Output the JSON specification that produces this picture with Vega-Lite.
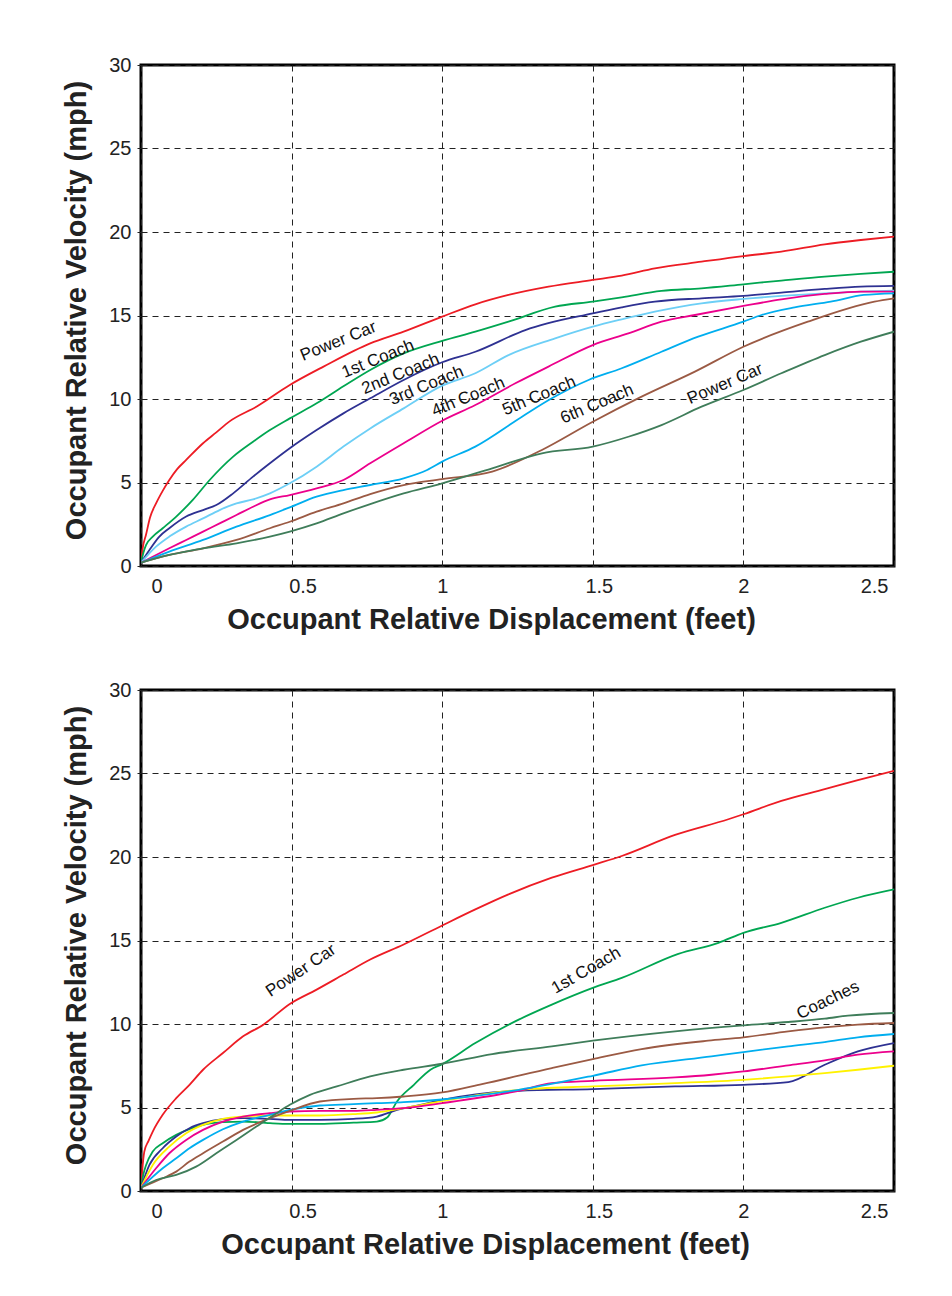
{
  "$schema": "https://vega.github.io/schema/vega-lite/v6.json",
  "background": "white",
  "padding": {"left": 60, "top": 53, "right": 5, "bottom": 5},
  "spacing": 42,
  "config": {
    "view": {"stroke": "black", "strokeWidth": 3},
    "axis": {
      "grid": true, "gridColor": "#222", "gridDash": [6, 5], "gridWidth": 1,
      "domain": false, "ticks": false,
      "labelFont": "Liberation Sans", "labelFontSize": 20, "labelColor": "#222",
      "titleFont": "Liberation Sans", "titleFontSize": 29, "titleFontWeight": "bold", "titleColor": "#222"
    },
    "text": {"font": "Liberation Sans", "fontSize": 17, "color": "#111"}
  },
  "datasets": {
    "top": [
      {"series":"Power Car (front)","x":0,"y":0.2},{"series":"Power Car (front)","x":0.005,"y":1.0},{"series":"Power Car (front)","x":0.017,"y":1.9},{"series":"Power Car (front)","x":0.03,"y":2.9},{"series":"Power Car (front)","x":0.05,"y":3.75},{"series":"Power Car (front)","x":0.072,"y":4.5},{"series":"Power Car (front)","x":0.094,"y":5.15},{"series":"Power Car (front)","x":0.12,"y":5.8},{"series":"Power Car (front)","x":0.15,"y":6.35},{"series":"Power Car (front)","x":0.206,"y":7.35},{"series":"Power Car (front)","x":0.25,"y":8.0},{"series":"Power Car (front)","x":0.294,"y":8.66},{"series":"Power Car (front)","x":0.383,"y":9.54},{"series":"Power Car (front)","x":0.494,"y":10.84},{"series":"Power Car (front)","x":0.606,"y":11.94},{"series":"Power Car (front)","x":0.761,"y":13.33},{"series":"Power Car (front)","x":0.872,"y":14.03},{"series":"Power Car (front)","x":1.0,"y":14.93},{"series":"Power Car (front)","x":1.11,"y":15.67},{"series":"Power Car (front)","x":1.22,"y":16.23},{"series":"Power Car (front)","x":1.353,"y":16.73},{"series":"Power Car (front)","x":1.5,"y":17.13},{"series":"Power Car (front)","x":1.596,"y":17.39},{"series":"Power Car (front)","x":1.706,"y":17.82},{"series":"Power Car (front)","x":1.861,"y":18.22},{"series":"Power Car (front)","x":2.0,"y":18.56},{"series":"Power Car (front)","x":2.126,"y":18.82},{"series":"Power Car (front)","x":2.27,"y":19.26},{"series":"Power Car (front)","x":2.39,"y":19.52},{"series":"Power Car (front)","x":2.5,"y":19.72},
      {"series":"1st Coach","x":0,"y":0.2},{"series":"1st Coach","x":0.008,"y":0.8},{"series":"1st Coach","x":0.017,"y":1.26},{"series":"1st Coach","x":0.039,"y":1.76},{"series":"1st Coach","x":0.072,"y":2.26},{"series":"1st Coach","x":0.117,"y":2.96},{"series":"1st Coach","x":0.172,"y":3.96},{"series":"1st Coach","x":0.228,"y":5.15},{"series":"1st Coach","x":0.306,"y":6.55},{"series":"1st Coach","x":0.372,"y":7.44},{"series":"1st Coach","x":0.428,"y":8.14},{"series":"1st Coach","x":0.494,"y":8.84},{"series":"1st Coach","x":0.583,"y":9.74},{"series":"1st Coach","x":0.672,"y":10.76},{"series":"1st Coach","x":0.761,"y":11.74},{"series":"1st Coach","x":0.872,"y":12.73},{"series":"1st Coach","x":1.0,"y":13.48},{"series":"1st Coach","x":1.11,"y":14.03},{"series":"1st Coach","x":1.22,"y":14.63},{"series":"1st Coach","x":1.375,"y":15.53},{"series":"1st Coach","x":1.5,"y":15.83},{"series":"1st Coach","x":1.596,"y":16.09},{"series":"1st Coach","x":1.728,"y":16.47},{"series":"1st Coach","x":1.861,"y":16.63},{"series":"1st Coach","x":2.0,"y":16.87},{"series":"1st Coach","x":2.126,"y":17.09},{"series":"1st Coach","x":2.27,"y":17.33},{"series":"1st Coach","x":2.39,"y":17.49},{"series":"1st Coach","x":2.5,"y":17.62},
      {"series":"2nd Coach","x":0,"y":0.2},{"series":"2nd Coach","x":0.028,"y":0.96},{"series":"2nd Coach","x":0.061,"y":1.76},{"series":"2nd Coach","x":0.094,"y":2.26},{"series":"2nd Coach","x":0.15,"y":2.96},{"series":"2nd Coach","x":0.206,"y":3.35},{"series":"2nd Coach","x":0.25,"y":3.65},{"series":"2nd Coach","x":0.306,"y":4.35},{"series":"2nd Coach","x":0.372,"y":5.35},{"series":"2nd Coach","x":0.428,"y":6.15},{"series":"2nd Coach","x":0.494,"y":7.05},{"series":"2nd Coach","x":0.583,"y":8.14},{"series":"2nd Coach","x":0.672,"y":9.14},{"series":"2nd Coach","x":0.761,"y":10.04},{"series":"2nd Coach","x":0.872,"y":11.14},{"series":"2nd Coach","x":1.0,"y":12.2},{"series":"2nd Coach","x":1.11,"y":12.83},{"series":"2nd Coach","x":1.276,"y":14.13},{"series":"2nd Coach","x":1.5,"y":15.13},{"series":"2nd Coach","x":1.596,"y":15.49},{"series":"2nd Coach","x":1.706,"y":15.83},{"series":"2nd Coach","x":1.861,"y":16.03},{"series":"2nd Coach","x":2.0,"y":16.17},{"series":"2nd Coach","x":2.126,"y":16.37},{"series":"2nd Coach","x":2.27,"y":16.59},{"series":"2nd Coach","x":2.39,"y":16.73},{"series":"2nd Coach","x":2.5,"y":16.77},
      {"series":"3rd Coach","x":0,"y":0.2},{"series":"3rd Coach","x":0.05,"y":1.16},{"series":"3rd Coach","x":0.094,"y":1.76},{"series":"3rd Coach","x":0.15,"y":2.36},{"series":"3rd Coach","x":0.206,"y":2.85},{"series":"3rd Coach","x":0.261,"y":3.35},{"series":"3rd Coach","x":0.317,"y":3.75},{"series":"3rd Coach","x":0.372,"y":3.99},{"series":"3rd Coach","x":0.428,"y":4.35},{"series":"3rd Coach","x":0.494,"y":4.95},{"series":"3rd Coach","x":0.583,"y":5.95},{"series":"3rd Coach","x":0.672,"y":7.15},{"series":"3rd Coach","x":0.761,"y":8.24},{"series":"3rd Coach","x":0.872,"y":9.44},{"series":"3rd Coach","x":1.0,"y":10.8},{"series":"3rd Coach","x":1.11,"y":11.54},{"series":"3rd Coach","x":1.22,"y":12.63},{"series":"3rd Coach","x":1.375,"y":13.63},{"series":"3rd Coach","x":1.5,"y":14.33},{"series":"3rd Coach","x":1.596,"y":14.77},{"series":"3rd Coach","x":1.706,"y":15.23},{"series":"3rd Coach","x":1.861,"y":15.73},{"series":"3rd Coach","x":2.0,"y":15.99},{"series":"3rd Coach","x":2.126,"y":16.17},{"series":"3rd Coach","x":2.27,"y":16.33},{"series":"3rd Coach","x":2.39,"y":16.43},{"series":"3rd Coach","x":2.5,"y":16.49},
      {"series":"4th Coach","x":0,"y":0.2},{"series":"4th Coach","x":0.094,"y":1.06},{"series":"4th Coach","x":0.15,"y":1.56},{"series":"4th Coach","x":0.206,"y":2.06},{"series":"4th Coach","x":0.261,"y":2.55},{"series":"4th Coach","x":0.317,"y":3.05},{"series":"4th Coach","x":0.372,"y":3.55},{"series":"4th Coach","x":0.428,"y":3.99},{"series":"4th Coach","x":0.494,"y":4.25},{"series":"4th Coach","x":0.583,"y":4.65},{"series":"4th Coach","x":0.672,"y":5.15},{"series":"4th Coach","x":0.761,"y":6.15},{"series":"4th Coach","x":0.872,"y":7.35},{"series":"4th Coach","x":1.0,"y":8.7},{"series":"4th Coach","x":1.11,"y":9.64},{"series":"4th Coach","x":1.243,"y":10.94},{"series":"4th Coach","x":1.353,"y":11.94},{"series":"4th Coach","x":1.5,"y":13.23},{"series":"4th Coach","x":1.618,"y":13.93},{"series":"4th Coach","x":1.728,"y":14.63},{"series":"4th Coach","x":1.839,"y":15.03},{"series":"4th Coach","x":2.0,"y":15.57},{"series":"4th Coach","x":2.126,"y":15.97},{"series":"4th Coach","x":2.27,"y":16.29},{"series":"4th Coach","x":2.39,"y":16.43},{"series":"4th Coach","x":2.5,"y":16.43},
      {"series":"5th Coach","x":0,"y":0.2},{"series":"5th Coach","x":0.094,"y":0.86},{"series":"5th Coach","x":0.206,"y":1.56},{"series":"5th Coach","x":0.317,"y":2.36},{"series":"5th Coach","x":0.428,"y":3.05},{"series":"5th Coach","x":0.494,"y":3.51},{"series":"5th Coach","x":0.583,"y":4.15},{"series":"5th Coach","x":0.672,"y":4.55},{"series":"5th Coach","x":0.761,"y":4.85},{"series":"5th Coach","x":0.872,"y":5.25},{"series":"5th Coach","x":0.95,"y":5.75},{"series":"5th Coach","x":1.0,"y":6.25},{"series":"5th Coach","x":1.11,"y":7.15},{"series":"5th Coach","x":1.265,"y":8.94},{"series":"5th Coach","x":1.364,"y":10.04},{"series":"5th Coach","x":1.486,"y":11.14},{"series":"5th Coach","x":1.596,"y":11.84},{"series":"5th Coach","x":1.728,"y":12.83},{"series":"5th Coach","x":1.85,"y":13.73},{"series":"5th Coach","x":2.0,"y":14.63},{"series":"5th Coach","x":2.06,"y":15.03},{"series":"5th Coach","x":2.17,"y":15.49},{"series":"5th Coach","x":2.29,"y":15.83},{"series":"5th Coach","x":2.4,"y":16.23},{"series":"5th Coach","x":2.5,"y":16.33},
      {"series":"6th Coach","x":0,"y":0.2},{"series":"6th Coach","x":0.094,"y":0.66},{"series":"6th Coach","x":0.206,"y":1.06},{"series":"6th Coach","x":0.317,"y":1.56},{"series":"6th Coach","x":0.428,"y":2.26},{"series":"6th Coach","x":0.494,"y":2.65},{"series":"6th Coach","x":0.583,"y":3.25},{"series":"6th Coach","x":0.672,"y":3.75},{"series":"6th Coach","x":0.761,"y":4.31},{"series":"6th Coach","x":0.872,"y":4.85},{"series":"6th Coach","x":1.0,"y":5.2},{"series":"6th Coach","x":1.166,"y":5.65},{"series":"6th Coach","x":1.331,"y":6.95},{"series":"6th Coach","x":1.5,"y":8.64},{"series":"6th Coach","x":1.662,"y":10.14},{"series":"6th Coach","x":1.839,"y":11.64},{"series":"6th Coach","x":2.0,"y":13.13},{"series":"6th Coach","x":2.214,"y":14.63},{"series":"6th Coach","x":2.435,"y":15.83},{"series":"6th Coach","x":2.5,"y":16.03},
      {"series":"Power Car (rear)","x":0,"y":0.2},{"series":"Power Car (rear)","x":0.094,"y":0.66},{"series":"Power Car (rear)","x":0.206,"y":1.06},{"series":"Power Car (rear)","x":0.317,"y":1.36},{"series":"Power Car (rear)","x":0.428,"y":1.76},{"series":"Power Car (rear)","x":0.494,"y":2.06},{"series":"Power Car (rear)","x":0.583,"y":2.55},{"series":"Power Car (rear)","x":0.672,"y":3.15},{"series":"Power Car (rear)","x":0.761,"y":3.71},{"series":"Power Car (rear)","x":0.872,"y":4.35},{"series":"Power Car (rear)","x":1.0,"y":4.95},{"series":"Power Car (rear)","x":1.166,"y":5.85},{"series":"Power Car (rear)","x":1.331,"y":6.75},{"series":"Power Car (rear)","x":1.5,"y":7.15},{"series":"Power Car (rear)","x":1.618,"y":7.74},{"series":"Power Car (rear)","x":1.728,"y":8.44},{"series":"Power Car (rear)","x":1.861,"y":9.54},{"series":"Power Car (rear)","x":2.0,"y":10.54},{"series":"Power Car (rear)","x":2.126,"y":11.54},{"series":"Power Car (rear)","x":2.27,"y":12.63},{"series":"Power Car (rear)","x":2.39,"y":13.43},{"series":"Power Car (rear)","x":2.5,"y":14.03}
    ],
    "top_labels": [
      {"series":"Power Car (front)","text":"Power Car","x":0.655,"y":13.45},
      {"series":"1st Coach","text":"1st Coach","x":0.787,"y":12.4},
      {"series":"2nd Coach","text":"2nd Coach","x":0.862,"y":11.5},
      {"series":"3rd Coach","text":"3rd Coach","x":0.948,"y":10.8},
      {"series":"4th Coach","text":"4th Coach","x":1.087,"y":10.12},
      {"series":"5th Coach","text":"5th Coach","x":1.322,"y":10.18},
      {"series":"6th Coach","text":"6th Coach","x":1.514,"y":9.7},
      {"series":"Power Car (rear)","text":"Power Car","x":1.939,"y":10.9}
    ],
    "bottom": [
      {"series":"Power Car (front)","x":0,"y":0.2},{"series":"Power Car (front)","x":0.004,"y":1.2},{"series":"Power Car (front)","x":0.011,"y":2.36},{"series":"Power Car (front)","x":0.025,"y":3.0},{"series":"Power Car (front)","x":0.039,"y":3.56},{"series":"Power Car (front)","x":0.072,"y":4.56},{"series":"Power Car (front)","x":0.117,"y":5.56},{"series":"Power Car (front)","x":0.161,"y":6.36},{"series":"Power Car (front)","x":0.206,"y":7.26},{"series":"Power Car (front)","x":0.272,"y":8.26},{"series":"Power Car (front)","x":0.339,"y":9.26},{"series":"Power Car (front)","x":0.406,"y":9.96},{"series":"Power Car (front)","x":0.494,"y":11.2},{"series":"Power Car (front)","x":0.583,"y":12.06},{"series":"Power Car (front)","x":0.672,"y":12.96},{"series":"Power Car (front)","x":0.761,"y":13.86},{"series":"Power Car (front)","x":0.872,"y":14.76},{"series":"Power Car (front)","x":1.0,"y":15.9},{"series":"Power Car (front)","x":1.11,"y":16.86},{"series":"Power Car (front)","x":1.22,"y":17.76},{"series":"Power Car (front)","x":1.364,"y":18.76},{"series":"Power Car (front)","x":1.5,"y":19.52},{"series":"Power Car (front)","x":1.596,"y":20.06},{"series":"Power Car (front)","x":1.773,"y":21.32},{"series":"Power Car (front)","x":1.95,"y":22.26},{"series":"Power Car (front)","x":2.0,"y":22.56},{"series":"Power Car (front)","x":2.126,"y":23.36},{"series":"Power Car (front)","x":2.27,"y":24.06},{"series":"Power Car (front)","x":2.38,"y":24.6},{"series":"Power Car (front)","x":2.5,"y":25.16},
      {"series":"1st Coach","x":0,"y":0.2},{"series":"1st Coach","x":0.008,"y":1.0},{"series":"1st Coach","x":0.017,"y":1.56},{"series":"1st Coach","x":0.039,"y":2.36},{"series":"1st Coach","x":0.072,"y":2.86},{"series":"1st Coach","x":0.117,"y":3.36},{"series":"1st Coach","x":0.161,"y":3.7},{"series":"1st Coach","x":0.206,"y":3.96},{"series":"1st Coach","x":0.272,"y":4.12},{"series":"1st Coach","x":0.339,"y":4.16},{"series":"1st Coach","x":0.428,"y":4.06},{"series":"1st Coach","x":0.494,"y":4.02},{"series":"1st Coach","x":0.594,"y":4.02},{"series":"1st Coach","x":0.706,"y":4.1},{"series":"1st Coach","x":0.783,"y":4.16},{"series":"1st Coach","x":0.817,"y":4.4},{"series":"1st Coach","x":0.85,"y":5.36},{"series":"1st Coach","x":0.906,"y":6.36},{"series":"1st Coach","x":0.961,"y":7.26},{"series":"1st Coach","x":1.0,"y":7.6},{"series":"1st Coach","x":1.11,"y":8.86},{"series":"1st Coach","x":1.254,"y":10.26},{"series":"1st Coach","x":1.364,"y":11.16},{"series":"1st Coach","x":1.5,"y":12.16},{"series":"1st Coach","x":1.596,"y":12.76},{"series":"1st Coach","x":1.784,"y":14.2},{"series":"1st Coach","x":1.917,"y":14.86},{"series":"1st Coach","x":2.0,"y":15.46},{"series":"1st Coach","x":2.126,"y":16.06},{"series":"1st Coach","x":2.27,"y":16.96},{"series":"1st Coach","x":2.38,"y":17.56},{"series":"1st Coach","x":2.5,"y":18.06},
      {"series":"2nd Coach","x":0,"y":0.2},{"series":"2nd Coach","x":0.028,"y":1.56},{"series":"2nd Coach","x":0.072,"y":2.56},{"series":"2nd Coach","x":0.117,"y":3.26},{"series":"2nd Coach","x":0.161,"y":3.76},{"series":"2nd Coach","x":0.206,"y":4.06},{"series":"2nd Coach","x":0.272,"y":4.3},{"series":"2nd Coach","x":0.339,"y":4.36},{"series":"2nd Coach","x":0.428,"y":4.32},{"series":"2nd Coach","x":0.494,"y":4.26},{"series":"2nd Coach","x":0.594,"y":4.26},{"series":"2nd Coach","x":0.706,"y":4.32},{"series":"2nd Coach","x":0.783,"y":4.46},{"series":"2nd Coach","x":0.85,"y":4.86},{"series":"2nd Coach","x":0.928,"y":5.16},{"series":"2nd Coach","x":1.0,"y":5.45},{"series":"2nd Coach","x":1.254,"y":6.0},{"series":"2nd Coach","x":1.5,"y":6.1},{"series":"2nd Coach","x":1.773,"y":6.26},{"series":"2nd Coach","x":2.0,"y":6.36},{"series":"2nd Coach","x":2.149,"y":6.52},{"series":"2nd Coach","x":2.27,"y":7.56},{"series":"2nd Coach","x":2.38,"y":8.36},{"series":"2nd Coach","x":2.5,"y":8.86},
      {"series":"3rd Coach","x":0,"y":0.2},{"series":"3rd Coach","x":0.039,"y":1.56},{"series":"3rd Coach","x":0.094,"y":2.66},{"series":"3rd Coach","x":0.15,"y":3.46},{"series":"3rd Coach","x":0.206,"y":3.96},{"series":"3rd Coach","x":0.272,"y":4.32},{"series":"3rd Coach","x":0.339,"y":4.46},{"series":"3rd Coach","x":0.428,"y":4.52},{"series":"3rd Coach","x":0.494,"y":4.52},{"series":"3rd Coach","x":0.594,"y":4.52},{"series":"3rd Coach","x":0.706,"y":4.6},{"series":"3rd Coach","x":0.783,"y":4.7},{"series":"3rd Coach","x":0.872,"y":4.96},{"series":"3rd Coach","x":1.0,"y":5.38},{"series":"3rd Coach","x":1.254,"y":6.06},{"series":"3rd Coach","x":1.5,"y":6.26},{"series":"3rd Coach","x":1.773,"y":6.46},{"series":"3rd Coach","x":2.0,"y":6.66},{"series":"3rd Coach","x":2.149,"y":6.86},{"series":"3rd Coach","x":2.27,"y":7.06},{"series":"3rd Coach","x":2.38,"y":7.26},{"series":"3rd Coach","x":2.5,"y":7.5},
      {"series":"4th Coach","x":0,"y":0.2},{"series":"4th Coach","x":0.05,"y":1.36},{"series":"4th Coach","x":0.094,"y":2.26},{"series":"4th Coach","x":0.15,"y":3.06},{"series":"4th Coach","x":0.206,"y":3.66},{"series":"4th Coach","x":0.272,"y":4.16},{"series":"4th Coach","x":0.339,"y":4.46},{"series":"4th Coach","x":0.428,"y":4.66},{"series":"4th Coach","x":0.494,"y":4.76},{"series":"4th Coach","x":0.594,"y":4.8},{"series":"4th Coach","x":0.706,"y":4.8},{"series":"4th Coach","x":0.783,"y":4.86},{"series":"4th Coach","x":0.872,"y":4.96},{"series":"4th Coach","x":1.0,"y":5.26},{"series":"4th Coach","x":1.254,"y":6.0},{"series":"4th Coach","x":1.364,"y":6.46},{"series":"4th Coach","x":1.5,"y":6.6},{"series":"4th Coach","x":1.773,"y":6.8},{"series":"4th Coach","x":1.894,"y":6.96},{"series":"4th Coach","x":2.0,"y":7.16},{"series":"4th Coach","x":2.149,"y":7.52},{"series":"4th Coach","x":2.27,"y":7.82},{"series":"4th Coach","x":2.38,"y":8.16},{"series":"4th Coach","x":2.5,"y":8.36},
      {"series":"5th Coach","x":0,"y":0.2},{"series":"5th Coach","x":0.072,"y":1.36},{"series":"5th Coach","x":0.117,"y":1.96},{"series":"5th Coach","x":0.161,"y":2.56},{"series":"5th Coach","x":0.206,"y":3.06},{"series":"5th Coach","x":0.272,"y":3.7},{"series":"5th Coach","x":0.339,"y":4.16},{"series":"5th Coach","x":0.428,"y":4.56},{"series":"5th Coach","x":0.494,"y":4.86},{"series":"5th Coach","x":0.594,"y":5.12},{"series":"5th Coach","x":0.706,"y":5.2},{"series":"5th Coach","x":0.783,"y":5.26},{"series":"5th Coach","x":0.872,"y":5.32},{"series":"5th Coach","x":1.0,"y":5.48},{"series":"5th Coach","x":1.254,"y":6.06},{"series":"5th Coach","x":1.5,"y":6.9},{"series":"5th Coach","x":1.662,"y":7.52},{"series":"5th Coach","x":1.894,"y":8.06},{"series":"5th Coach","x":2.0,"y":8.32},{"series":"5th Coach","x":2.149,"y":8.66},{"series":"5th Coach","x":2.27,"y":8.92},{"series":"5th Coach","x":2.38,"y":9.2},{"series":"5th Coach","x":2.5,"y":9.4},
      {"series":"6th Coach","x":0,"y":0.2},{"series":"6th Coach","x":0.072,"y":0.76},{"series":"6th Coach","x":0.117,"y":1.16},{"series":"6th Coach","x":0.161,"y":1.76},{"series":"6th Coach","x":0.206,"y":2.26},{"series":"6th Coach","x":0.272,"y":2.96},{"series":"6th Coach","x":0.339,"y":3.66},{"series":"6th Coach","x":0.428,"y":4.36},{"series":"6th Coach","x":0.494,"y":4.8},{"series":"6th Coach","x":0.594,"y":5.36},{"series":"6th Coach","x":0.706,"y":5.52},{"series":"6th Coach","x":0.783,"y":5.56},{"series":"6th Coach","x":0.872,"y":5.66},{"series":"6th Coach","x":1.0,"y":5.9},{"series":"6th Coach","x":1.132,"y":6.4},{"series":"6th Coach","x":1.364,"y":7.36},{"series":"6th Coach","x":1.5,"y":7.9},{"series":"6th Coach","x":1.662,"y":8.5},{"series":"6th Coach","x":1.883,"y":9.0},{"series":"6th Coach","x":2.0,"y":9.2},{"series":"6th Coach","x":2.149,"y":9.56},{"series":"6th Coach","x":2.27,"y":9.8},{"series":"6th Coach","x":2.38,"y":9.96},{"series":"6th Coach","x":2.5,"y":10.06},
      {"series":"Power Car (rear)","x":0,"y":0.2},{"series":"Power Car (rear)","x":0.05,"y":0.66},{"series":"Power Car (rear)","x":0.117,"y":0.96},{"series":"Power Car (rear)","x":0.183,"y":1.46},{"series":"Power Car (rear)","x":0.25,"y":2.26},{"series":"Power Car (rear)","x":0.317,"y":3.06},{"series":"Power Car (rear)","x":0.383,"y":3.86},{"series":"Power Car (rear)","x":0.45,"y":4.66},{"series":"Power Car (rear)","x":0.494,"y":5.16},{"series":"Power Car (rear)","x":0.561,"y":5.76},{"series":"Power Car (rear)","x":0.65,"y":6.26},{"series":"Power Car (rear)","x":0.761,"y":6.86},{"series":"Power Car (rear)","x":0.872,"y":7.26},{"series":"Power Car (rear)","x":1.0,"y":7.62},{"series":"Power Car (rear)","x":1.166,"y":8.2},{"series":"Power Car (rear)","x":1.364,"y":8.66},{"series":"Power Car (rear)","x":1.5,"y":9.0},{"series":"Power Car (rear)","x":1.773,"y":9.56},{"series":"Power Car (rear)","x":2.0,"y":9.92},{"series":"Power Car (rear)","x":2.149,"y":10.12},{"series":"Power Car (rear)","x":2.27,"y":10.32},{"series":"Power Car (rear)","x":2.347,"y":10.5},{"series":"Power Car (rear)","x":2.5,"y":10.66}
    ],
    "bottom_labels": [
      {"series":"Power Car (front)","text":"Power Car","x":0.531,"y":13.2},
      {"series":"1st Coach","text":"1st Coach","x":1.478,"y":13.2},
      {"series":"Coaches","text":"Coaches","x":2.281,"y":11.42}
    ]
  },
  "resolve": {"scale": {"color": "independent", "angle": "independent"}},
  "vconcat": [
    {
      "width": 753, "height": 501,
      "layer": [
        {
          "data": {"name": "top"},
          "mark": {"type": "line", "interpolate": "monotone", "strokeWidth": 1.8, "clip": true},
          "encoding": {
            "x": {"field": "x", "type": "quantitative", "scale": {"domain": [0, 2.5], "nice": false, "zero": false},
              "axis": {"values": [0, 0.5, 1, 1.5, 2, 2.5], "format": "~g", "labelPadding": 10,
                "labelOffset": {"condition": [{"test": "datum.value === 0", "value": 10}, {"test": "datum.value === 0.5", "value": 11}, {"test": "datum.value === 1.5", "value": 6}, {"test": "datum.value === 2.5", "value": -6}], "value": 0},
                "title": "Occupant Relative Displacement (feet)", "titleX": 350, "titleY": 53, "titleBaseline": "middle"}},
            "y": {"field": "y", "type": "quantitative", "scale": {"domain": [0, 30], "nice": false},
              "axis": {"values": [0, 5, 10, 15, 20, 25, 30], "labelPadding": 6, "ticks": true, "tickSize": 4, "tickColor": "#222",
                "title": "Occupant Relative Velocity (mph)", "titleX": -65, "titleY": 245, "titleBaseline": "middle", "titleAlign": "center"}},
            "color": {"field": "series", "type": "nominal", "legend": null,
              "scale": {"domain": ["Power Car (front)", "1st Coach", "2nd Coach", "3rd Coach", "4th Coach", "5th Coach", "6th Coach", "Power Car (rear)"],
                "range": ["#ed1c24", "#00a651", "#2e3192", "#6dcff6", "#ec008c", "#00aeef", "#9b5a44", "#3f7d5a"]}}
          }
        },
        {
          "data": {"name": "top_labels"},
          "mark": {"type": "text", "align": "center", "baseline": "middle"},
          "encoding": {
            "x": {"field": "x", "type": "quantitative"},
            "y": {"field": "y", "type": "quantitative"},
            "text": {"field": "text"},
            "angle": {"field": "series", "type": "nominal", "legend": null,
              "scale": {"domain": ["Power Car (front)", "1st Coach", "2nd Coach", "3rd Coach", "4th Coach", "5th Coach", "6th Coach", "Power Car (rear)"],
                "range": [338, 337, 336, 335, 334, 333, 334, 338]}}
          }
        }
      ]
    },
    {
      "width": 753, "height": 501,
      "layer": [
        {
          "data": {"name": "bottom"},
          "mark": {"type": "line", "interpolate": "monotone", "strokeWidth": 1.8, "clip": true},
          "encoding": {
            "x": {"field": "x", "type": "quantitative", "scale": {"domain": [0, 2.5], "nice": false, "zero": false},
              "axis": {"values": [0, 0.5, 1, 1.5, 2, 2.5], "format": "~g", "labelPadding": 10,
                "labelOffset": {"condition": [{"test": "datum.value === 0", "value": 10}, {"test": "datum.value === 0.5", "value": 11}, {"test": "datum.value === 1.5", "value": 6}, {"test": "datum.value === 2.5", "value": -6}], "value": 0},
                "title": "Occupant Relative Displacement (feet)", "titleX": 344, "titleY": 53, "titleBaseline": "middle"}},
            "y": {"field": "y", "type": "quantitative", "scale": {"domain": [0, 30], "nice": false},
              "axis": {"values": [0, 5, 10, 15, 20, 25, 30], "labelPadding": 6, "ticks": true, "tickSize": 4, "tickColor": "#222",
                "title": "Occupant Relative Velocity (mph)", "titleX": -65, "titleY": 245, "titleBaseline": "middle", "titleAlign": "center"}},
            "color": {"field": "series", "type": "nominal", "legend": null,
              "scale": {"domain": ["Power Car (front)", "1st Coach", "2nd Coach", "3rd Coach", "4th Coach", "5th Coach", "6th Coach", "Power Car (rear)"],
                "range": ["#ed1c24", "#00a651", "#2e3192", "#fff200", "#ec008c", "#00aeef", "#9b5a44", "#3f7d5a"]}}
          }
        },
        {
          "data": {"name": "bottom_labels"},
          "mark": {"type": "text", "align": "center", "baseline": "middle"},
          "encoding": {
            "x": {"field": "x", "type": "quantitative"},
            "y": {"field": "y", "type": "quantitative"},
            "text": {"field": "text"},
            "angle": {"field": "series", "type": "nominal", "legend": null,
              "scale": {"domain": ["Power Car (front)", "1st Coach", "Coaches"], "range": [326, 334, 352]}}
          }
        }
      ]
    }
  ]
}
